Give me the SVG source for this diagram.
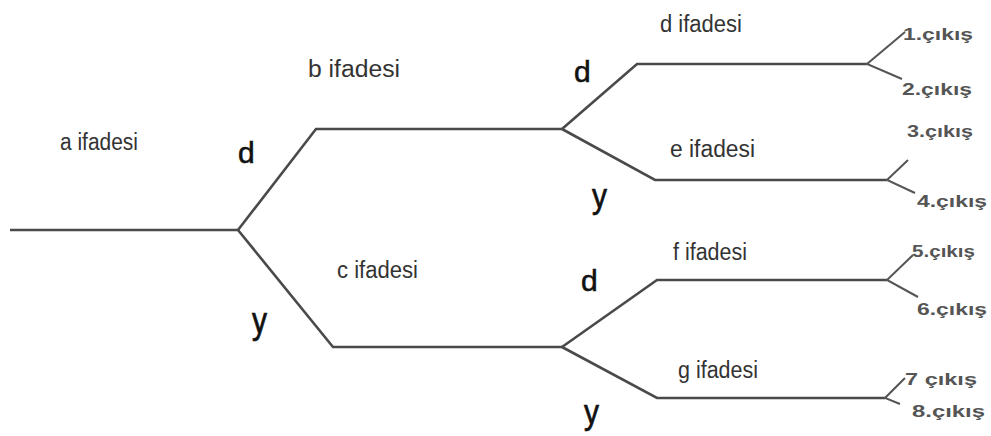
<svg xmlns="http://www.w3.org/2000/svg" width="991" height="436" viewBox="0 0 991 436">
<style>
.ln{fill:none;stroke:#4a4a4a;stroke-width:2.6;stroke-linejoin:miter}
.ex{fill:none;stroke:#555;stroke-width:2}
.lbl{font-family:"Liberation Sans",Arial,sans-serif;font-size:23px;fill:#333}
.dy{font-family:"Liberation Sans",Arial,sans-serif;font-size:30px;fill:#111;stroke:#111;stroke-width:0.6}
.out{font-family:"Liberation Sans",Arial,sans-serif;font-size:17px;font-weight:bold;fill:#555}
</style>
<rect width="991" height="436" fill="#fff"/>
<g id="connectors">
<path class="ln" d="M10,230 H238"/>
<path class="ln" d="M238,230 L316,129 H562"/>
<path class="ln" d="M238,230 L333,347 H562"/>
<path class="ln" d="M562,129 L637,64 H867"/>
<path class="ln" d="M562,129 L655,180 H887"/>
<path class="ln" d="M562,347 L657,280 H887"/>
<path class="ln" d="M562,347 L657,398 H885"/>
<path class="ex" d="M905,32 L867,64 L902,79"/>
<path class="ex" d="M908,160 L887,180 L915,193"/>
<path class="ex" d="M913,255 L887,280 L918,297"/>
<path class="ex" d="M905,378 L885,398 L900,404"/>
</g>
<g id="a"><text class="lbl" x="60" y="150" textLength="78" lengthAdjust="spacingAndGlyphs">a ifadesi</text></g>
<g id="b"><text class="lbl" x="308" y="77" textLength="92" lengthAdjust="spacingAndGlyphs">b ifadesi</text></g>
<g id="c"><text class="lbl" x="337" y="278" textLength="81" lengthAdjust="spacingAndGlyphs">c ifadesi</text></g>
<g id="d"><text class="lbl" x="660" y="32" textLength="82" lengthAdjust="spacingAndGlyphs">d ifadesi</text></g>
<g id="e"><text class="lbl" x="670" y="157" textLength="85" lengthAdjust="spacingAndGlyphs">e ifadesi</text></g>
<g id="f"><text class="lbl" x="673" y="260" textLength="74" lengthAdjust="spacingAndGlyphs">f ifadesi</text></g>
<g id="g"><text class="lbl" x="678" y="378" textLength="80" lengthAdjust="spacingAndGlyphs">g ifadesi</text></g>
<g id="decisions">
<text class="dy" x="238" y="163">d</text>
<text class="dy" x="252" y="333" transform="translate(252,333) scale(1,1.2) translate(-252,-333)">y</text>
<text class="dy" x="574" y="82">d</text>
<text class="dy" x="592" y="208" transform="translate(592,208) scale(1,1.15) translate(-592,-208)">y</text>
<text class="dy" x="581" y="291">d</text>
<text class="dy" x="584" y="424" transform="translate(584,424) scale(1,1.15) translate(-584,-424)">y</text>
</g>
<g id="outputs">
<text class="out" x="903" y="40" textLength="70" lengthAdjust="spacingAndGlyphs">1.çıkış</text>
<text class="out" x="902" y="95" textLength="70" lengthAdjust="spacingAndGlyphs">2.çıkış</text>
<text class="out" x="907" y="137" textLength="66" lengthAdjust="spacingAndGlyphs">3.çıkış</text>
<text class="out" x="917" y="207" textLength="70" lengthAdjust="spacingAndGlyphs">4.çıkış</text>
<text class="out" x="912" y="257" textLength="63" lengthAdjust="spacingAndGlyphs">5.çıkış</text>
<text class="out" x="917" y="315" textLength="70" lengthAdjust="spacingAndGlyphs">6.çıkış</text>
<text class="out" x="905" y="385" textLength="72" lengthAdjust="spacingAndGlyphs">7 çıkış</text>
<text class="out" x="912" y="417" textLength="73" lengthAdjust="spacingAndGlyphs">8.çıkış</text>
</g>
</svg>
